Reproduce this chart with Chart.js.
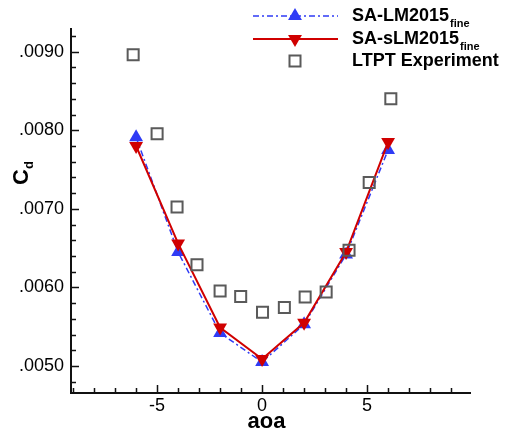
<!DOCTYPE html>
<html>
<head>
<meta charset="utf-8">
<script src="https://cdn.jsdelivr.net/npm/chart.js@4/dist/chart.umd.min.js"></script>
<style>
  html, body { margin:0; padding:0; background:#fff; }
  #wrap { width:508px; height:438px; }
</style>
</head>
<body>
<div id="wrap"><canvas id="cdChart" width="508" height="438"></canvas></div>
<script>
// ── Drag polar data: Cd vs angle of attack ──────────────────
const aoaCfd = [-6, -4, -2, 0, 2, 4, 6];
const cdLM   = [0.00791, 0.00645, 0.00542, 0.00505, 0.00553, 0.00642, 0.00775];
const cdSLM  = [0.00780, 0.00656, 0.00549, 0.00509, 0.00555, 0.00645, 0.00785];

const aoaExp = [-6.14, -5.0, -4.05, -3.1, -2.0, -1.02, 0.02, 1.06, 2.05, 3.05, 4.14, 5.1, 6.13];
const cdExp  = [0.00896, 0.007955, 0.007025, 0.00629, 0.005955, 0.005885, 0.005684,
                0.005745, 0.005879, 0.005943, 0.006474, 0.007335, 0.008401];

const xTicks = [-5, 0, 5];
const yTicks = [0.005, 0.006, 0.007, 0.008, 0.009];

const BLUE = '#2f3bf5';
const RED  = '#d00000';
const GREY = '#5a5a5a';
const FONT = '"Liberation Sans", Arial, Helvetica, sans-serif';

const pts = (xs, ys) => xs.map((x, i) => ({ x, y: ys[i] }));

// inward ticks + axis titles + legend, drawn on top of the plot
const decor = {
  id: 'decor',
  afterDraw(chart) {
    const { ctx, chartArea: a, scales: { x, y } } = chart;
    ctx.save();
    ctx.strokeStyle = '#111';
    ctx.lineWidth = 1.5;
    ctx.beginPath();
    for (let i = -9; i <= 9; i++) {
      const px = Math.round(x.getPixelForValue(i)) + 0.5;
      const len = (i % 5 === 0) ? 8 : 5;
      ctx.moveTo(px, a.bottom); ctx.lineTo(px, a.bottom - len);
    }
    for (let k = 24; k <= 46; k++) {
      const py = Math.round(y.getPixelForValue(k * 0.0002)) + 0.5;
      const len = (k % 5 === 0) ? 8 : 5;
      ctx.moveTo(a.left, py); ctx.lineTo(a.left + len, py);
    }
    ctx.stroke();

    // axis titles
    ctx.fillStyle = '#000';
    ctx.font = 'bold 22px ' + FONT;
    ctx.textAlign = 'center';
    ctx.textBaseline = 'middle';
    ctx.fillText('aoa', (a.left + a.right) / 2 - 4, 422);

    ctx.save();
    ctx.translate(20, 173);
    ctx.rotate(-Math.PI / 2);
    ctx.textAlign = 'left';
    ctx.textBaseline = 'alphabetic';
    ctx.font = 'bold 22px ' + FONT;
    const cw = ctx.measureText('C').width;
    ctx.fillText('C', -cw / 2 - 4, 8);
    ctx.font = 'bold 13px ' + FONT;
    ctx.fillText('d', cw / 2 - 4, 13);
    ctx.restore();

    // legend
    const rows = [
      { name: 'SA-LM2015', sub: 'fine', color: BLUE, dash: [6, 3, 2, 3], width: 1.5, mark: 'up',   y: 16 },
      { name: 'SA-sLM2015', sub: 'fine', color: RED, dash: [], width: 2, mark: 'down', y: 39 },
      { name: 'LTPT Experiment', sub: '', color: GREY, dash: null, width: 2, mark: 'box', y: 61 }
    ];
    rows.forEach(r => {
      if (r.dash) {
        ctx.strokeStyle = r.color;
        ctx.lineWidth = r.width;
        ctx.setLineDash(r.dash);
        ctx.beginPath(); ctx.moveTo(253, r.y); ctx.lineTo(338, r.y); ctx.stroke();
        ctx.setLineDash([]);
      }
      const mx = 295, my = r.y, rad = 8;
      if (r.mark === 'box') {
        ctx.strokeStyle = GREY; ctx.lineWidth = 2;
        ctx.strokeRect(mx - 5.5, my - 5.5, 11, 11);
      } else {
        const s = r.mark === 'up' ? 1 : -1;
        ctx.fillStyle = r.color;
        ctx.beginPath();
        ctx.moveTo(mx, my - s * rad);
        ctx.lineTo(mx + rad * 0.866, my + s * rad / 2);
        ctx.lineTo(mx - rad * 0.866, my + s * rad / 2);
        ctx.closePath(); ctx.fill();
      }
      ctx.fillStyle = '#000';
      ctx.textAlign = 'left';
      ctx.textBaseline = 'middle';
      ctx.font = 'bold 18px ' + FONT;
      ctx.fillText(r.name, 352, r.y);
      if (r.sub) {
        const w = ctx.measureText(r.name).width;
        ctx.font = 'bold 11px ' + FONT;
        ctx.fillText(r.sub, 352 + w + 1, r.y + 8);
      }
    });
    ctx.restore();
  }
};

new Chart(document.getElementById('cdChart'), {
  type: 'line',
  data: {
    datasets: [
      { label: 'LTPT Experiment', data: pts(aoaExp, cdExp), showLine: false,
        pointStyle: 'rect', pointRadius: 7.8, pointHoverRadius: 7.8, pointBorderWidth: 2,
        pointBorderColor: GREY, pointBackgroundColor: 'rgba(0,0,0,0)', order: 0 },
      { label: 'SA-sLM2015', data: pts(aoaCfd, cdSLM), borderColor: RED, borderWidth: 2,
        pointStyle: 'triangle', rotation: 180, pointRadius: 8, pointBorderWidth: 0,
        pointBackgroundColor: RED, tension: 0, order: 1 },
      { label: 'SA-LM2015', data: pts(aoaCfd, cdLM), borderColor: BLUE, borderWidth: 1.5,
        borderDash: [6, 3, 2, 3], pointStyle: 'triangle', pointRadius: 8, pointBorderWidth: 0,
        pointBackgroundColor: BLUE, tension: 0, order: 2 }
    ]
  },
  options: {
    responsive: false, animation: false,
    layout: { padding: { top: 29, right: 38, left: 0, bottom: 0 } },
    plugins: { legend: { display: false }, tooltip: { enabled: false } },
    scales: {
      x: {
        type: 'linear', min: -9.1, max: 9.9,
        afterFit: s => { s.height = 45; },
        afterBuildTicks: s => { s.ticks = xTicks.map(v => ({ value: v })); },
        grid: { display: false, drawTicks: false },
        border: { display: true, color: '#111', width: 2 },
        ticks: { padding: 2, color: '#000', font: { family: FONT, size: 18 }, maxRotation: 0 }
      },
      y: {
        type: 'linear', min: 0.0046564, max: 0.009289,
        afterFit: s => { s.width = 71; },
        afterBuildTicks: s => { s.ticks = yTicks.map(v => ({ value: v })); },
        grid: { display: false, drawTicks: false },
        border: { display: true, color: '#111', width: 2 },
        ticks: { padding: 7, color: '#000', font: { family: FONT, size: 18 },
                 callback: v => v.toFixed(4).replace(/^0/, '') }
      }
    }
  },
  plugins: [decor]
});
</script>
</body>
</html>
